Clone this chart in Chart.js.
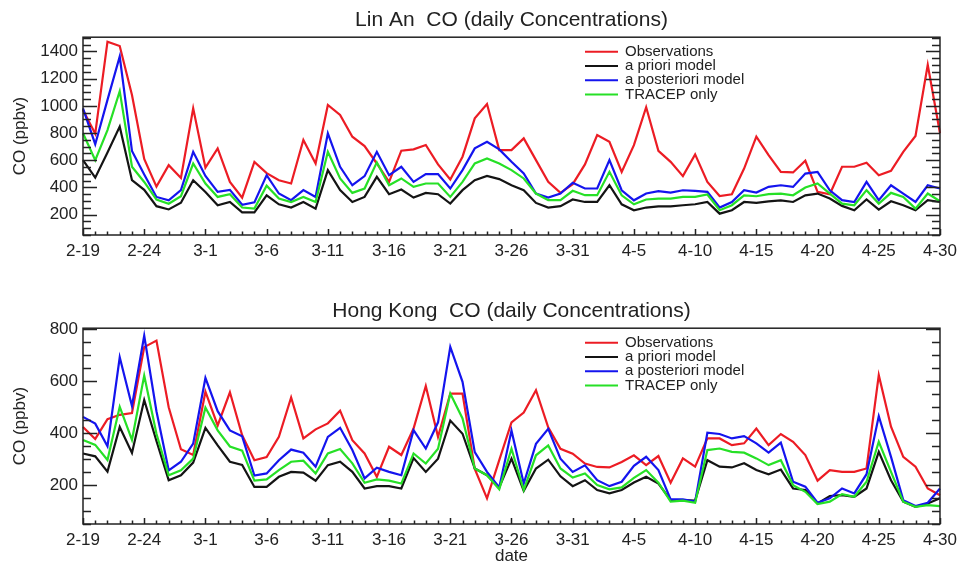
<!DOCTYPE html>
<html>
<head>
<meta charset="utf-8">
<script src="https://cdn.jsdelivr.net/npm/chart.js@4.4.1/dist/chart.umd.min.js"></script>
<style>
  html, body { margin: 0; padding: 0; background: #fff; }
  #wrap { position: relative; width: 963px; height: 567px; }
  canvas { position: absolute; left: 0; display: block; }
  #c1 { top: 0; }
  #c2 { top: 283px; }
</style>
</head>
<body>
<div id="wrap">
  <canvas id="c1" width="963" height="283"></canvas>
  <canvas id="c2" width="963" height="284"></canvas>
</div>
<script>
// Daily CO, 2-19 .. 4-30 (71 days)
const seriesNames = ['Observations', 'a priori model', 'a posteriori model', 'TRACEP only'];
const seriesColors = ['#ec1c24', '#141414', '#1414ee', '#26e026'];
const tickLabels = ['2-19', '2-24', '3-1', '3-6', '3-11', '3-16', '3-21', '3-26', '3-31', '4-5', '4-10', '4-15', '4-20', '4-25', '4-30'];
const linanTicks = [200, 400, 600, 800, 1000, 1200, 1400];
const hkTicks = [200, 400, 600, 800];

const linanObs = [970, 795, 1472, 1440, 1080, 610, 406, 564, 470, 982,
  545, 687, 440, 325, 588, 505, 453, 429, 749, 576,
  1007, 933, 773, 704, 576, 441, 670, 680, 712, 569,
  458, 626, 908, 1014, 675, 675, 761, 601, 441, 360,
  424, 569, 785, 736, 514, 711, 990, 669, 588, 483,
  643, 441, 337, 350, 539, 773, 638, 514, 510, 596,
  367, 350, 552, 552, 581, 490, 522, 662, 778, 1302,
  798];
const linanPrior = [601, 472, 657, 847, 453, 382, 262, 238, 287, 453,
  367, 269, 293, 217, 217, 342, 276, 252, 293, 244,
  527, 380, 293, 330, 478, 350, 384, 325, 360, 350,
  281, 380, 453, 485, 461, 416, 380, 286, 252, 262,
  311, 293, 293, 416, 276, 232, 252, 261, 261, 269,
  276, 293, 207, 232, 293, 286, 298, 305, 293, 342,
  355, 318, 264, 232, 311, 237, 298, 269, 232, 306,
  293];
const linanPost = [982, 718, 1044, 1363, 668, 495, 330, 305, 380, 662,
  484, 367, 382, 272, 290, 490, 355, 306, 380, 330,
  798, 552, 416, 483, 662, 490, 552, 441, 498, 498,
  392, 527, 687, 736, 680, 589, 503, 355, 325, 355,
  434, 392, 392, 601, 379, 305, 355, 372, 362, 379,
  374, 367, 252, 293, 379, 362, 404, 416, 404, 502,
  514, 379, 306, 293, 441, 306, 416, 355, 293, 416,
  392];
const linanTracep = [798, 600, 822, 1108, 552, 440, 310, 280, 335, 576,
  429, 330, 350, 252, 245, 413, 318, 293, 330, 293,
  662, 466, 360, 392, 584, 416, 466, 404, 429, 429,
  330, 441, 576, 613, 576, 527, 466, 355, 306, 306,
  375, 343, 343, 515, 342, 276, 311, 318, 318, 330,
  330, 348, 232, 269, 342, 335, 350, 355, 342, 399,
  429, 355, 281, 269, 380, 281, 360, 330, 244, 355,
  298];

const hkObs = [424, 378, 454, 471, 478, 732, 757, 500, 338, 316,
  560, 430, 558, 392, 296, 308, 386, 538, 380, 415,
  438, 487, 373, 322, 232, 348, 316, 418, 582, 386,
  553, 553, 262, 149, 296, 442, 480, 566, 423, 340,
  321, 283, 270, 268, 289, 315, 277, 312, 209, 303,
  271, 380, 380, 354, 361, 418, 354, 397, 367, 316,
  217, 258, 251, 251, 264, 624, 425, 309, 271, 187,
  161];
const hkPrior = [322, 311, 252, 424, 324, 528, 370, 219, 238, 287,
  421, 353, 290, 278, 193, 193, 232, 251, 248, 217,
  277, 290, 251, 187, 196, 196, 187, 304, 251, 302,
  449, 398, 264, 238, 191, 302, 178, 264, 298, 234,
  196, 219, 181, 168, 181, 210, 232, 206, 142, 142,
  140, 296, 271, 268, 284, 258, 242, 260, 187, 181,
  129, 158, 161, 155, 187, 328, 219, 136, 116, 129,
  149];
const hkPost = [463, 437, 350, 693, 505, 776, 485, 257, 290, 360,
  613, 485, 411, 388, 237, 245, 296, 337, 325, 271,
  386, 421, 335, 226, 267, 251, 238, 412, 341, 442,
  733, 598, 327, 251, 191, 410, 206, 359, 417, 302,
  251, 276, 219, 196, 213, 274, 309, 258, 145, 145,
  136, 402, 397, 380, 389, 361, 325, 364, 213, 194,
  132, 149, 187, 168, 242, 466, 309, 142, 119, 132,
  187];
const hkTracep = [374, 355, 297, 502, 374, 622, 398, 238, 257, 302,
  499, 411, 349, 333, 217, 222, 258, 290, 294, 245,
  322, 339, 284, 209, 222, 217, 206, 322, 283, 340,
  553, 457, 264, 238, 184, 340, 181, 315, 353, 264,
  229, 245, 200, 184, 191, 228, 258, 209, 136, 140,
  132, 335, 341, 328, 325, 303, 277, 296, 200, 174,
  127, 136, 165, 155, 213, 367, 251, 136, 116, 123,
  119];

// day labels 2-19 .. 4-30
const days = [];
const monthLen = { 2: 28, 3: 31, 4: 30 };
for (let m = 2, d = 19; m < 5;) {
  days.push(m + '-' + d);
  d++;
  if (d > monthLen[m]) { m++; d = 1; }
}

const font = 'Liberation Sans, Arial, sans-serif';

// box, inward ticks and in-plot legend
const frameAndLegend = {
  id: 'frameAndLegend',
  afterDatasetsDraw(chart) {
    const { ctx, chartArea: a, scales: { x, y } } = chart;
    ctx.save();
    ctx.strokeStyle = '#222';
    ctx.lineWidth = 1.5;
    ctx.strokeRect(a.left, a.top, a.width, a.height);
    ctx.beginPath();
    for (let v = 50; v <= y.max; v += 50) {
      const py = Math.round(y.getPixelForValue(v)) + 0.5;
      const len = v % 200 === 0 ? 14 : 8;
      ctx.moveTo(a.left, py); ctx.lineTo(a.left + len, py);
      ctx.moveTo(a.right, py); ctx.lineTo(a.right - len, py);
    }
    for (let i = 0; i < days.length; i++) {
      const px = Math.round(x.getPixelForValue(i)) + 0.5;
      const len = i % 5 === 0 ? 6 : 3.5;
      ctx.moveTo(px, a.bottom); ctx.lineTo(px, a.bottom - len);
    }
    ctx.stroke();

    ctx.font = '15px ' + font;
    ctx.textBaseline = 'middle';
    ctx.fillStyle = '#222';
    chart.data.datasets.forEach((ds, k) => {
      const ly = a.top + 14.5 + k * 14.3;
      ctx.strokeStyle = ds.borderColor;
      ctx.lineWidth = 2;
      ctx.beginPath();
      ctx.moveTo(a.left + 502, ly);
      ctx.lineTo(a.left + 535, ly);
      ctx.stroke();
      ctx.fillText(ds.label, a.left + 542, ly);
    });
    ctx.restore();
  }
};

function makeChart(id, title, data, yMax, yTicks, opts) {
  new Chart(document.getElementById(id), {
    type: 'line',
    data: {
      labels: days,
      datasets: data.map((vals, k) => ({
        label: seriesNames[k],
        data: vals,
        borderColor: seriesColors[k],
        borderWidth: 2.2,
        pointRadius: 0,
        tension: 0,
        order: 4 - k
      }))
    },
    options: {
      responsive: false,
      animation: false,
      devicePixelRatio: 1,
      layout: { padding: { left: 0, right: 20, top: 0, bottom: 0 } },
      plugins: {
        legend: { display: false },
        tooltip: { enabled: false },
        title: {
          display: true,
          text: title,
          fullSize: false,
          color: '#222',
          font: { family: font, size: 21, weight: 'normal' },
          padding: opts.titlePad
        }
      },
      scales: {
        x: {
          type: 'category',
          offset: false,
          grid: { display: false, drawTicks: false },
          border: { display: false },
          ticks: {
            autoSkip: false,
            maxRotation: 0,
            padding: 6,
            color: '#222',
            font: { family: font, size: 17 },
            callback: (v, i) => (i % 5 === 0 ? tickLabels[i / 5] : null)
          },
          title: {
            display: !!opts.xTitle,
            text: opts.xTitle || '',
            color: '#222',
            font: { family: font, size: 17 },
            padding: { top: 0, bottom: 0 }
          },
          afterFit: s => { s.height = opts.xHeight; }
        },
        y: {
          min: 50,
          max: yMax,
          grid: { display: false, drawTicks: false },
          border: { display: false },
          afterBuildTicks: s => { s.ticks = yTicks.map(v => ({ value: v })); },
          ticks: {
            padding: 5,
            color: '#222',
            font: { family: font, size: 17 },
            callback: v => String(v)
          },
          title: {
            display: true,
            text: 'CO (ppbv)',
            color: '#222',
            font: { family: font, size: 17 },
            padding: { top: 10, bottom: 0 }
          },
          afterFit: s => { s.width = 83; }
        }
      }
    },
    plugins: [frameAndLegend]
  });
}

makeChart('c1', 'Lin An  CO (daily Concentrations)',
  [linanObs, linanPrior, linanPost, linanTracep], 1505, linanTicks,
  { titlePad: { top: 8, bottom: 4 }, xHeight: 48 });

makeChart('c2', 'Hong Kong  CO (daily Concentrations)',
  [hkObs, hkPrior, hkPost, hkTracep], 805, hkTicks,
  { titlePad: { top: 16, bottom: 4 }, xHeight: 43, xTitle: 'date' });
</script>
</body>
</html>
